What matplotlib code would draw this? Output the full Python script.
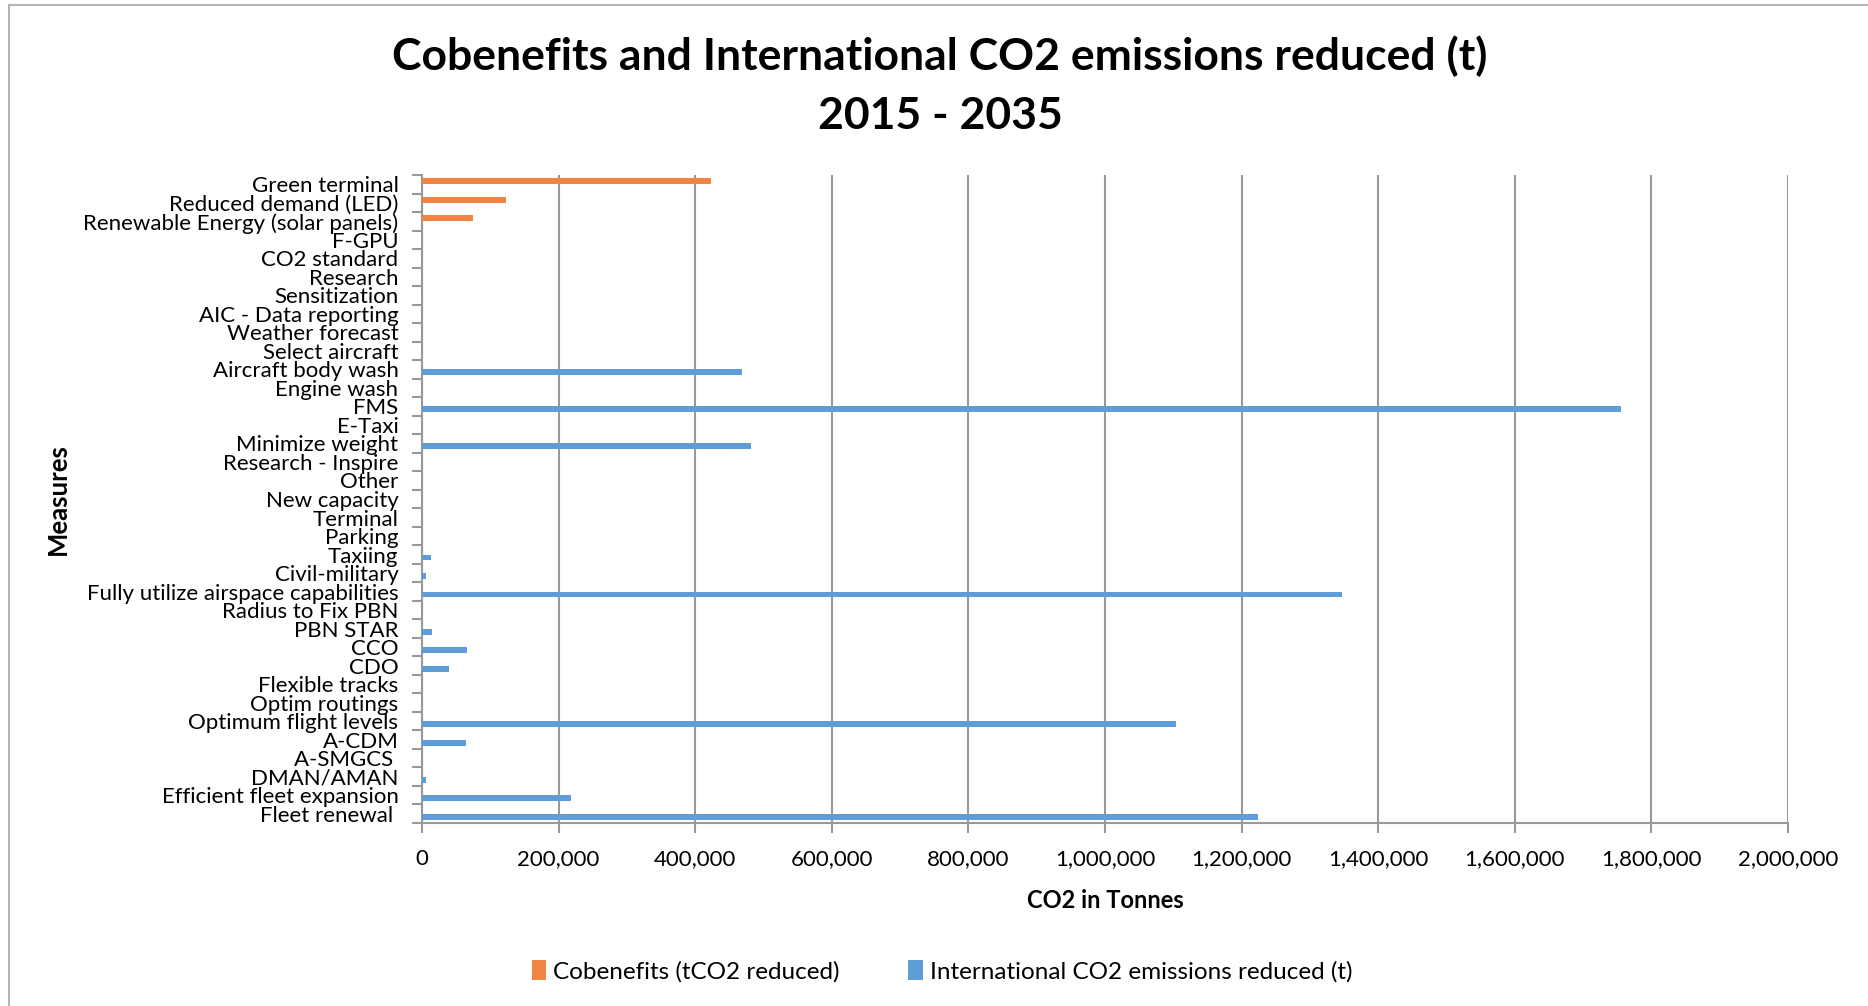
import matplotlib.pyplot as plt
from matplotlib.lines import Line2D
from matplotlib.ticker import FuncFormatter, MultipleLocator, FixedLocator
import numpy as np

# measures, listed top to bottom as in the chart
measures = [
    "Green terminal", "Reduced demand (LED)", "Renewable Energy (solar panels)",
    "F-GPU", "CO2 standard", "Research", "Sensitization", "AIC - Data reporting",
    "Weather forecast", "Select aircraft", "Aircraft body wash", "Engine wash",
    "FMS", "E-Taxi", "Minimize weight", "Research - Inspire", "Other",
    "New capacity", "Terminal", "Parking", "Taxiing", "Civil-military",
    "Fully utilize airspace capabilities", "Radius to Fix PBN", "PBN STAR",
    "CCO", "CDO", "Flexible tracks", "Optim routings", "Optimum flight levels",
    "A-CDM", "A-SMGCS ", "DMAN/AMAN", "Efficient fleet expansion", "Fleet renewal ",
]

cobenefits = [423000, 123000, 74700] + [0] * 32

international = [
    0, 0, 0, 0, 0, 0, 0, 0, 0, 0, 468500, 0,
    1755500, 0, 481700, 0, 0,
    0, 0, 0, 12700, 5400,
    1347000, 0, 14200,
    65400, 39000, 0, 0, 1104000,
    64000, 0, 5400, 217700, 1224000,
]

orange = "#F08440"
blue = "#5F9DD9"
grey = "#999999"

plt.rcParams["font.family"] = ["Lato", "DejaVu Sans"]

fig = plt.figure(figsize=(18.68, 10.06), dpi=100)
ax = fig.add_axes([422 / 1868, 1 - 823 / 1006, (1788 - 422) / 1868, (823 - 175) / 1006])

pos = np.arange(len(measures))
bar_h = 0.32
ax.barh(pos - 0.16, cobenefits, height=bar_h, color=orange, label="Cobenefits (tCO2 reduced)", zorder=3)
ax.barh(pos + 0.16, international, height=bar_h, color=blue,
        label="International CO2 emissions reduced (t)", zorder=3)

ax.set_ylim(len(measures) - 0.5, -0.5)
ax.set_xlim(0, 2000000)

ax.set_yticks(pos)
ax.set_yticklabels(measures, fontsize=16)
ax.yaxis.set_minor_locator(FixedLocator(np.arange(len(measures) + 1) - 0.5))
ax.tick_params(axis="y", which="major", length=0, pad=17)
ax.tick_params(axis="y", which="minor", length=7, width=1.5, color=grey)

ax.xaxis.set_major_locator(MultipleLocator(200000))
ax.xaxis.set_major_formatter(FuncFormatter(lambda v, p: "{:,.0f}".format(v)))
ax.tick_params(axis="x", length=7, width=1.5, color=grey, labelsize=16, pad=12)

ax.grid(axis="x", color=grey, linewidth=1.5, zorder=0)
for s in ["top", "right"]:
    ax.spines[s].set_visible(False)
for s in ["left", "bottom"]:
    ax.spines[s].set_color(grey)
    ax.spines[s].set_linewidth(1.5)

ax.set_xlabel("CO2 in Tonnes", fontsize=17, fontweight="bold", labelpad=14)
ax.set_ylabel("Measures", fontsize=18.5, fontweight="bold", labelpad=10)

fig.text(940 / 1868, 1 - 56 / 1006, "Cobenefits and International CO2 emissions reduced (t)",
         ha="center", va="center", fontsize=32, fontweight="bold")
fig.text(940 / 1868, 1 - 116 / 1006, "2015 - 2035",
         ha="center", va="center", fontsize=32, fontweight="bold")

fig.legend(loc="center", bbox_to_anchor=(942 / 1868, 1 - 971 / 1006), ncol=2, frameon=False,
           fontsize=17.5, handlelength=0.6, handleheight=0.9, handletextpad=0.3, columnspacing=2.8)

# light outline of the chart area
fig.add_artist(Line2D([9 / 1868, 9 / 1868], [0, 1 - 5 / 1006], color="#B5B5B5", linewidth=1.5))
fig.add_artist(Line2D([9 / 1868, 1], [1 - 5 / 1006, 1 - 5 / 1006], color="#B5B5B5", linewidth=1.5))

fig.savefig("out.png", dpi=100)
